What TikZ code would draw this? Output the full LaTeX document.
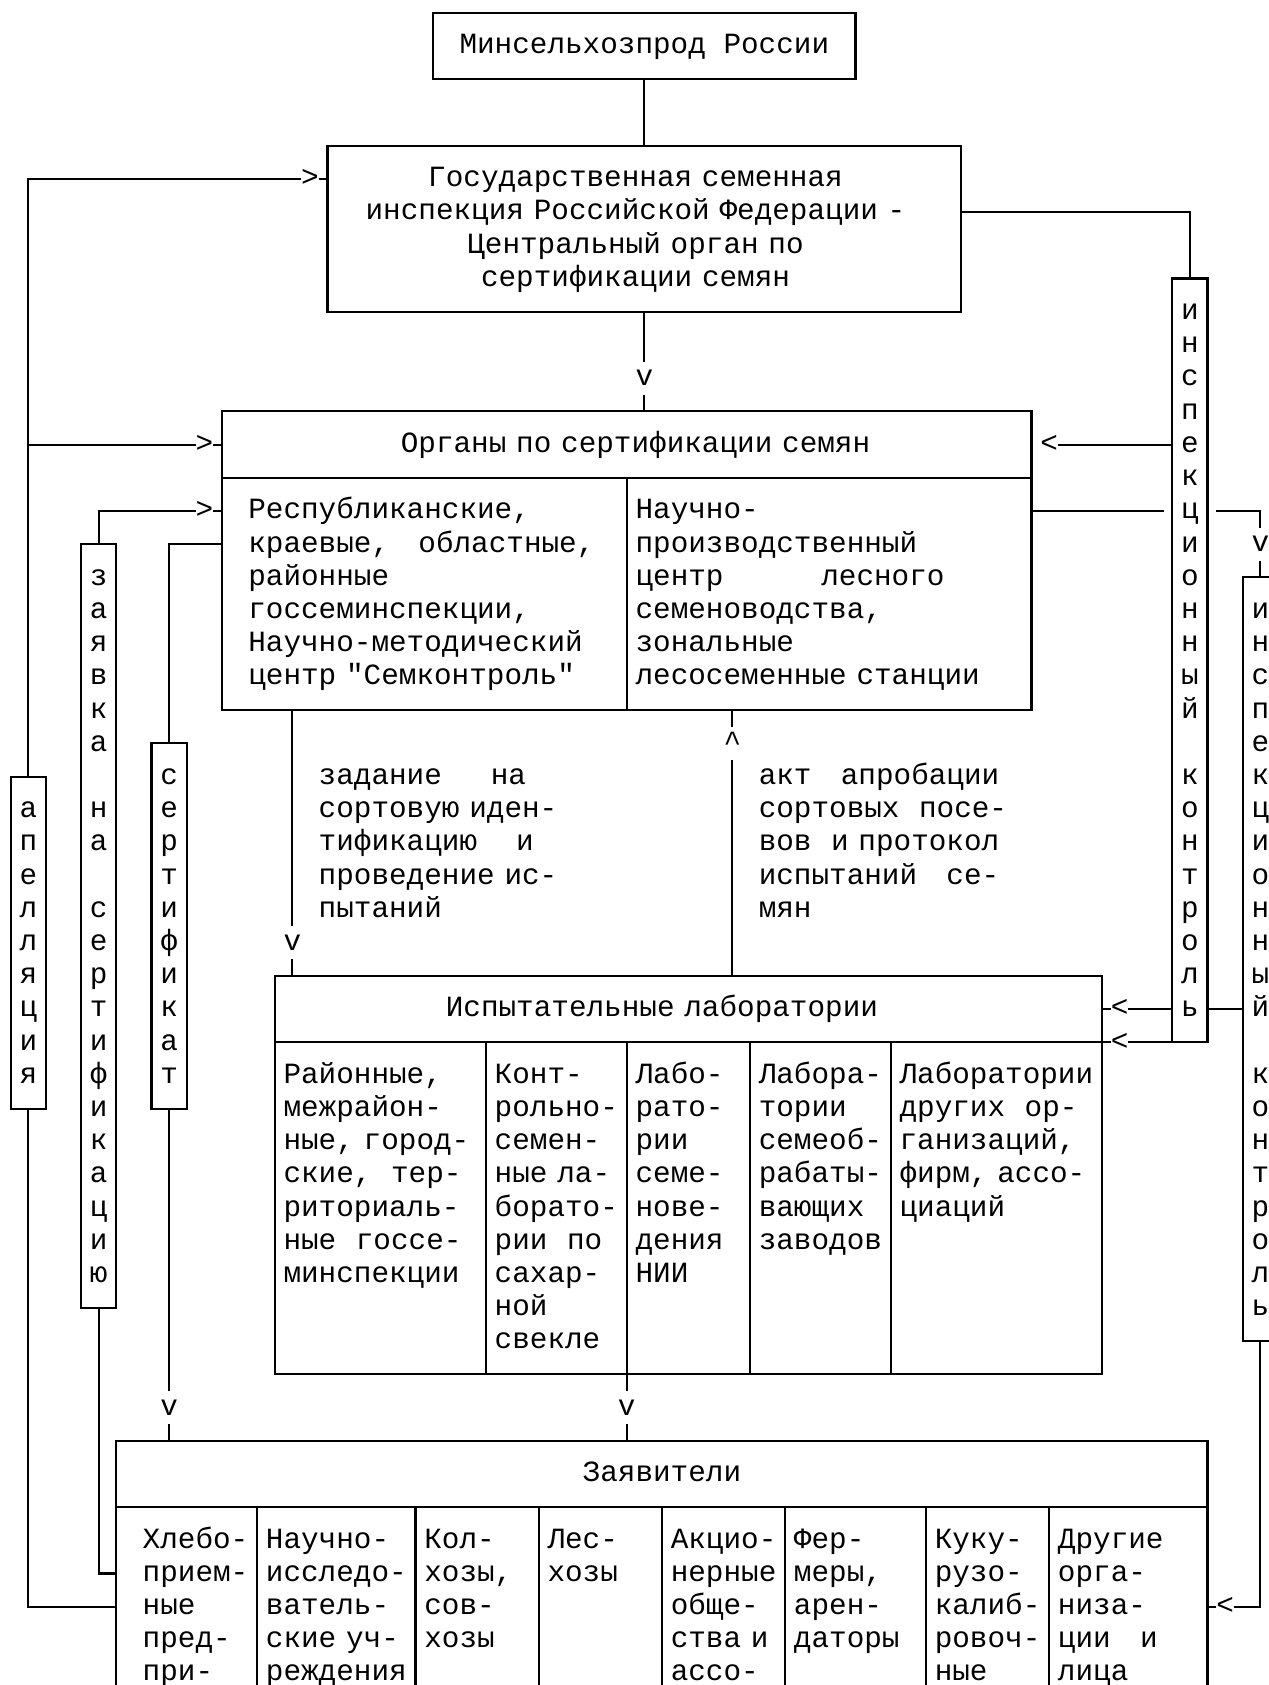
\documentclass[tikz,border=0pt]{standalone}
\usepackage{fontspec}
\newfontfamily\courfont{Liberation Mono}
\newcommand{\diagfont}{\courfont\fontsize{27.3pt}{30.9pt}\selectfont\frenchspacing}
\begin{document}
\begin{tikzpicture}[x=16.38pt, y=-30.9pt, line width=2pt,
    box/.style 2 args={draw, inner sep=0pt, outer sep=0pt, anchor=north west,
        minimum width=#1*16.38pt, minimum height=#2*30.9pt, font=\diagfont,
        text height=22.73pt, text depth=8.2pt},
    ctxt/.style={font=\diagfont, inner sep=0pt, outer sep=0pt, anchor=base,
        align=center, text width=40*16.38pt, yshift=-7.28pt},
    txt/.style={ctxt, anchor=base west, align=left, text width=24*16.38pt,
        xshift=-8.19pt},
    vtxt/.style={ctxt, text width=2*16.38pt},
    glyph/.style={font=\diagfont, inner sep=0pt, outer sep=0pt, minimum width=16.38pt,
        minimum height=30.9pt, text height=22.73pt, text depth=8.2pt}]
    \path[fill=white, use as bounding box] (-0.61,-0.39) rectangle (71.49,50.36);
    \clip (-0.61,-0.39) rectangle (71.49,50.36);
    \node[box={24}{2}] (minsel) at (24,0) {Минсельхозпрод России};
    \node[box={36}{5}] (gsi) at (18,4) {};
    \node[box={46}{9}] (organy) at (12,12) {};
    \node[box={47}{12}] (lab) at (15,29) {};
    \node[box={62}{9}] (zayavit) at (6,43) {};
    \node[box={2}{10}] (apel) at (0,23) {};
    \node[box={2}{23}] (zayav) at (4,16) {};
    \node[box={2}{11}] (sert) at (8,22) {};
    \node[box={2}{23}] (insp1) at (66,8) {};
    \node[box={2}{23}] (insp2) at (70,17) {};
    \node[ctxt] (gsiT) at (35.5,5) {Государственная семенная\\инспекция Российской Федерации -\\Центральный орган по\\сертификации семян};
    \node[ctxt] (organyT) at (35.5,13) {Органы по сертификации семян};
    \draw (12,14) -- (58,14);
    \draw (35,14) -- (35,21);
    \node[txt] (organyL) at (14,15) {Республиканские,\\краевые,~~~областные,\\районные\\госсеминспекции,\\Научно-методический\\центр "Семконтроль"};
    \node[txt] (organyR) at (36,15) {Научно-\\производственный\\центр~~~~~~~~~~лесного\\семеноводства,\\зональные\\лесосеменные станции};
    \node[vtxt] (apelT) at (1,24) {а\\п\\е\\л\\л\\я\\ц\\и\\я};
    \node[vtxt] (zayavT) at (5,17) {з\\а\\я\\в\\к\\а\\\mbox{}\\н\\а\\\mbox{}\\с\\е\\р\\т\\и\\ф\\и\\к\\а\\ц\\и\\ю};
    \node[vtxt] (sertT) at (9,23) {с\\е\\р\\т\\и\\ф\\и\\к\\а\\т};
    \node[vtxt] (insp1T) at (67,9) {и\\н\\с\\п\\е\\к\\ц\\и\\о\\н\\н\\ы\\й\\\mbox{}\\к\\о\\н\\т\\р\\о\\л\\ь};
    \node[vtxt] (insp2T) at (71,18) {и\\н\\с\\п\\е\\к\\ц\\и\\о\\н\\н\\ы\\й\\\mbox{}\\к\\о\\н\\т\\р\\о\\л\\ь};
    \node[txt] (zadanie) at (18,23) {задание~~~~~на\\сортовую иден-\\тификацию~~~~и\\проведение ис-\\пытаний};
    \node[txt] (akt) at (43,23) {акт~~~апробации\\сортовых~~посе-\\вов~~и протокол\\испытаний~~~се-\\мян};
    \node[ctxt] (labT) at (37,30) {Испытательные лаборатории};
    \draw (15,31) -- (62,31);
    \foreach \c in {27,35,42,50} \draw (\c,31) -- (\c,41);
    \node[txt] (lab1) at (16,32) {Районные,\\межрайон-\\ные, город-\\ские,~~тер-\\риториаль-\\ные~~госсе-\\минспекции};
    \node[txt] (lab2) at (28,32) {Конт-\\рольно-\\семен-\\ные ла-\\борато-\\рии~~по\\сахар-\\ной\\свекле};
    \node[txt] (lab3) at (36,32) {Лабо-\\рато-\\рии\\семе-\\нове-\\дения\\НИИ};
    \node[txt] (lab4) at (43,32) {Лабора-\\тории\\семеоб-\\рабаты-\\вающих\\заводов};
    \node[txt] (lab5) at (51,32) {Лаборатории\\других~~ор-\\ганизаций,\\фирм, ассо-\\циаций};
    \node[ctxt] (zayavitT) at (37,44) {Заявители};
    \draw (6,45) -- (68,45);
    \foreach \c in {14,23,30,37,44,52,59} \draw (\c,45) -- (\c,52);
    \node[txt] (zay1) at (8,46) {Хлебо-\\прием-\\ные\\пред-\\при-};
    \node[txt] (zay2) at (15,46) {Научно-\\исследо-\\ватель-\\ские уч-\\реждения};
    \node[txt] (zay3) at (24,46) {Кол-\\хозы,\\сов-\\хозы};
    \node[txt] (zay4) at (31,46) {Лес-\\хозы};
    \node[txt] (zay5) at (38,46) {Акцио-\\нерные\\обще-\\ства и\\ассо-};
    \node[txt] (zay6) at (45,46) {Фер-\\меры,\\арен-\\даторы};
    \node[txt] (zay7) at (53,46) {Куку-\\рузо-\\калиб-\\ровоч-\\ные};
    \node[txt] (zay8) at (60,46) {Другие\\орга-\\низа-\\ции~~~и\\лица};
    \node[glyph] (v1) at (36,11) {v};
    \node[glyph] (v2) at (9,42) {v};
    \node[glyph] (v3) at (16,28) {v};
    \node[glyph] (v4) at (71,16) {v};
    \node[glyph] (v5) at (35,42) {v};
    \node[glyph] (up1) at (41,22) {\textasciicircum};
    \node[glyph] (gt1) at (17,5) {>};
    \node[glyph] (gt2) at (11,13) {>};
    \node[glyph] (gt3) at (11,15) {>};
    \node[glyph] (lt1) at (59,13) {<};
    \node[glyph] (lt2) at (63,30) {<};
    \node[glyph] (lt3) at (63,31) {<};
    \node[glyph] (lt4) at (69,48) {<};
    \coordinate (gsiE) at (54,6);
    \coordinate (organyW) at (12,16);
    \coordinate (organyE) at (58,15);
    \coordinate (zayavitW1) at (6,47);
    \coordinate (zayavitW2) at (6,48);
    \draw (minsel.south) -- (gsi.north);
    \draw (gsi.south) -- (v1.north);
    \draw (v1.south) -- (v1 |- organy.north);
    \draw (gsiE) -| (insp1.north);
    \draw (apel.north) |- (gt1.west);
    \draw (gt1.east) -- (gt1 -| gsi.west);
    \draw (apel.north |- gt2) -- (gt2.west);
    \draw (gt2.east) -- (gt2 -| organy.west);
    \draw (zayav.north) |- (gt3.west);
    \draw (gt3.east) -- (gt3 -| organy.west);
    \draw (organyW) -| (sert.north);
    \draw (sert.south) -- (v2.north);
    \draw (v2.south) -- (v2 |- zayavit.north);
    \draw (zayav.south) |- (zayavitW1);
    \draw (apel.south) |- (zayavitW2);
    \draw (v3 |- organy.south) -- (v3.north);
    \draw (v3.south) -- (v3 |- lab.north);
    \draw (up1 |- lab.north) -- (up1.south);
    \draw (up1.north) -- (up1 |- organy.south);
    \draw (lt1.east) -- (lt1 -| insp1.west);
    \draw[shorten >=8.19pt] (organyE) -- (organyE -| insp1.west);
    \draw[shorten <=8.19pt] (organyE -| insp1.east) -| (v4.north);
    \draw (v4.south) -- (insp2.north);
    \draw (lt2 -| lab.east) -- (lt2.west);
    \draw (lt2.east) -- (lt2 -| insp1.west);
    \draw (lt2 -| insp1.east) -- (lt2 -| insp2.west);
    \draw (lt3 -| lab.east) -- (lt3.west);
    \draw (lt3.east) -- (insp1.south west);
    \draw (v5 |- lab.south) -- (v5.north);
    \draw (v5.south) -- (v5 |- zayavit.north);
    \draw (insp2.south) |- (lt4.east);
    \draw (lt4.west) -- (lt4 -| zayavit.east);
\end{tikzpicture}
\end{document}
